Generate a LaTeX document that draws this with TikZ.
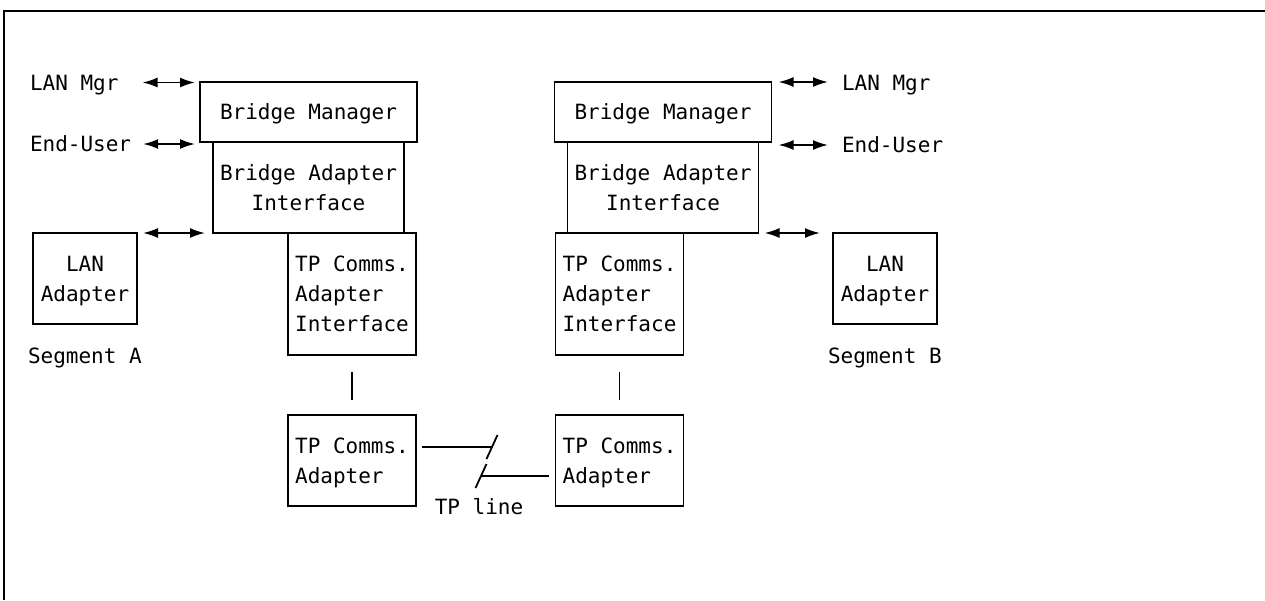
\documentclass[tikz,border=0pt]{standalone}
\usepackage{fontspec}
\setmonofont{DejaVu Sans Mono}
\usetikzlibrary{arrows.meta,positioning}

\begin{document}
\begin{tikzpicture}[
  x=1pt, y=-1pt, >={Latex[length=15pt,width=10pt]},
  every node/.style={font=\ttfamily\fontsize{21}{30}\selectfont},
  box/.style={draw, line width=1.8pt, inner sep=0pt, outer sep=0pt, text depth=0pt},
  lbl/.style={inner sep=0pt, outer sep=0pt, text height=15pt, text depth=0pt},
  wire/.style={line width=1.8pt},
  dbl/.style={<->, line width=1.8pt}
]
  \useasboundingbox (0,0) rectangle (1265,600);
  \draw[wire] (1265,11) -| (4,600);

  % segment A side
  \node[box, minimum width=217pt, minimum height=60pt] (mgrA) at (308.5,112) {Bridge Manager};
  \node[box, minimum width=191pt, minimum height=91pt, align=center, below=0pt of mgrA] (baiA) {Bridge Adapter\\Interface};
  \node[box, minimum width=128pt, minimum height=122pt, align=left] (tpaiA) at (352,294) {TP Comms.\\Adapter\\Interface};
  \node[box, minimum width=128pt, minimum height=91pt, align=left] (tpaA) at (352,460.5) {TP Comms.\\Adapter};
  \node[box, minimum width=104pt, minimum height=91pt, align=center] (lanA) at (85,278.5) {LAN\\Adapter};
  \node[lbl, anchor=west] (lanmgrA) at (30,82.5) {LAN Mgr};
  \node[lbl, anchor=west] (userA) at (30,144) {End-User};
  \node[lbl, anchor=west] (segA) at (28,356) {Segment A};

  % segment B side
  \node[box, minimum width=217pt, minimum height=60pt] (mgrB) at (663,112) {Bridge Manager};
  \node[box, minimum width=191pt, minimum height=91pt, align=center, below=0pt of mgrB] (baiB) {Bridge Adapter\\Interface};
  \node[box, minimum width=128pt, minimum height=122pt, align=left] (tpaiB) at (619.5,294) {TP Comms.\\Adapter\\Interface};
  \node[box, minimum width=128pt, minimum height=91pt, align=left] (tpaB) at (619.5,460.5) {TP Comms.\\Adapter};
  \node[box, minimum width=104pt, minimum height=91pt, align=center] (lanB) at (885,278.5) {LAN\\Adapter};
  \node[lbl, anchor=west] (lanmgrB) at (842,83) {LAN Mgr};
  \node[lbl, anchor=west] (userB) at (842,145) {End-User};
  \node[lbl, anchor=west] (segB) at (828,356) {Segment B};

  \draw[dbl, shorten <=24pt, shorten >=5pt] (lanmgrA.east) -- (lanmgrA.east -| mgrA.west);
  \draw[dbl, shorten <=12pt, shorten >=5pt] (userA.east) -- (userA.east -| mgrA.west);
  \draw[dbl, shorten <=6pt, shorten >=8pt] (lanA.north east) -- (lanA.north east -| baiA.west);
  \draw[dbl, shorten <=7pt, shorten >=14pt] (mgrB.north east) -- (mgrB.north east -| lanmgrB.west);
  \draw[dbl, shorten <=7pt, shorten >=14pt] (userB.west -| mgrB.east) -- (userB.west);
  \draw[dbl, shorten <=6pt, shorten >=13pt] (lanB.north west -| baiB.east) -- (lanB.north west);

  \draw[wire, shorten <=17pt, shorten >=15pt] (tpaiA) -- (tpaA);
  \draw[wire, shorten <=17pt, shorten >=15pt] (tpaiB) -- (tpaB);

  % broken TP line
  \coordinate (cutA) at (492,447);
  \coordinate (cutB) at (481,476);
  \draw[wire, shorten <=6pt] (tpaA.east |- cutA) -- (cutA);
  \draw[wire] (cutA) ++(-5.5,12) -- ++(11,-24);
  \draw[wire, shorten >=7pt] (cutB) -- (tpaB.west |- cutB);
  \draw[wire] (cutB) ++(-5.5,12) -- ++(11,-24);
  \node[lbl] (tpline) at (479,507) {TP line};
\end{tikzpicture}
\end{document}
